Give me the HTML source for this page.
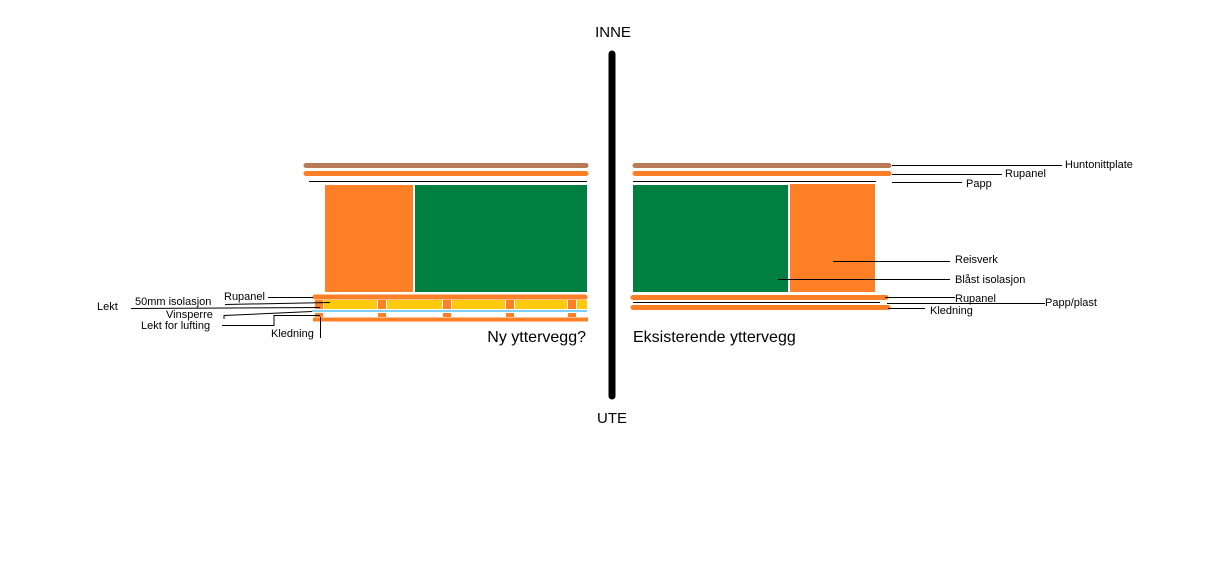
<!DOCTYPE html>
<html><head><style>body{margin:0;background:#fff}svg{display:block}</style></head><body>
<svg width="1206" height="565" xmlns="http://www.w3.org/2000/svg" font-family="Liberation Sans, sans-serif">
<rect width="1206" height="565" fill="#fff"/>
<line x1="612" y1="54" x2="612" y2="396" stroke="#000" stroke-width="7" stroke-linecap="round"/>
<text x="613" y="37" font-size="15" text-anchor="middle">INNE</text>
<text x="612" y="423" font-size="15" text-anchor="middle">UTE</text>
<!-- left -->
<line x1="306" y1="165.5" x2="586" y2="165.5" stroke="#b97a57" stroke-width="5" stroke-linecap="round"/>
<line x1="306" y1="173.5" x2="586" y2="173.5" stroke="#ff7f27" stroke-width="5" stroke-linecap="round"/>
<line x1="309" y1="181.5" x2="587" y2="181.5" stroke="#000" stroke-width="1"/>
<rect x="325" y="185" width="88" height="107" fill="#ff7f27"/>
<rect x="415" y="185" width="172" height="107" fill="#008040"/>
<line x1="315" y1="297" x2="585" y2="297" stroke="#ff7f27" stroke-width="5" stroke-linecap="round"/>
<rect x="322" y="300" width="265" height="9" fill="#ffc90e"/>
<g fill="#fff">
<rect x="323" y="300" width="1" height="9"/><rect x="377" y="300" width="1" height="9"/><rect x="386" y="300" width="1" height="9"/><rect x="442" y="300" width="1" height="9"/><rect x="451" y="300" width="1" height="9"/><rect x="505" y="300" width="1" height="9"/><rect x="514" y="300" width="1" height="9"/><rect x="567" y="300" width="1" height="9"/><rect x="576" y="300" width="1" height="9"/>
</g>
<g fill="#ff7f27">
<rect x="315" y="300" width="8" height="9"/><rect x="378" y="300" width="8" height="9"/><rect x="443" y="300" width="8" height="9"/><rect x="506" y="300" width="8" height="9"/><rect x="568" y="300" width="8" height="9"/>
<rect x="315" y="313" width="8" height="4"/><rect x="378" y="313" width="8" height="4"/><rect x="443" y="313" width="8" height="4"/><rect x="506" y="313" width="8" height="4"/><rect x="568" y="313" width="8" height="4"/>
</g>
<line x1="312" y1="311" x2="587" y2="311" stroke="#00a2e8" stroke-width="1"/>
<line x1="313" y1="319.5" x2="588" y2="319.5" stroke="#ff7f27" stroke-width="4"/>
<g stroke="#000" stroke-width="1" fill="none">
<polyline points="268,297.5 313,297.5"/>
<polyline points="225,304.5 330,302.5"/>
<polyline points="131,308.5 320,307.5"/>
<polyline points="224,319 224,315.5 312,311.5"/>
<polyline points="222,325.5 274,325.5 274,315.5 320,315.5"/>
<polyline points="320.5,317 320.5,338"/>
</g>
<g font-size="11">
<text x="97" y="310">Lekt</text>
<text x="135" y="305">50mm isolasjon</text>
<text x="224" y="300">Rupanel</text>
<text x="166" y="318">Vinsperre</text>
<text x="141" y="329">Lekt for lufting</text>
<text x="271" y="337">Kledning</text>
</g>
<text x="586" y="342" font-size="16" text-anchor="end">Ny yttervegg?</text>
<!-- right -->
<line x1="635" y1="165.5" x2="889" y2="165.5" stroke="#b97a57" stroke-width="5" stroke-linecap="round"/>
<line x1="635" y1="173.5" x2="889" y2="173.5" stroke="#ff7f27" stroke-width="5" stroke-linecap="round"/>
<line x1="633" y1="181.5" x2="876" y2="181.5" stroke="#000" stroke-width="1"/>
<rect x="633" y="185" width="155" height="107" fill="#008040"/>
<rect x="790" y="184" width="85" height="108" fill="#ff7f27"/>
<line x1="633" y1="297.5" x2="886" y2="297.5" stroke="#ff7f27" stroke-width="5" stroke-linecap="round"/>
<line x1="633" y1="302.5" x2="880" y2="302.5" stroke="#000" stroke-width="1"/>
<line x1="633" y1="307.5" x2="888" y2="307.5" stroke="#ff7f27" stroke-width="5" stroke-linecap="round"/>
<g stroke="#000" stroke-width="1">
<line x1="892" y1="165.5" x2="1062" y2="165.5"/>
<line x1="892" y1="174.5" x2="1002" y2="174.5"/>
<line x1="892" y1="182.5" x2="962" y2="182.5"/>
<line x1="833" y1="261.5" x2="950" y2="261.5"/>
<line x1="778" y1="279.5" x2="950" y2="279.5"/>
<line x1="885" y1="297.5" x2="955" y2="297.5"/>
<line x1="887" y1="303.5" x2="1045" y2="303.5"/>
<line x1="888" y1="308.5" x2="925" y2="308.5"/>
</g>
<g font-size="11">
<text x="1065" y="168">Huntonittplate</text>
<text x="1005" y="177">Rupanel</text>
<text x="966" y="187">Papp</text>
<text x="955" y="263">Reisverk</text>
<text x="955" y="283">Blåst isolasjon</text>
<text x="955" y="302">Rupanel</text>
<text x="1045" y="306">Papp/plast</text>
<text x="930" y="314">Kledning</text>
</g>
<text x="633" y="342" font-size="16">Eksisterende yttervegg</text>
</svg>
</body></html>
